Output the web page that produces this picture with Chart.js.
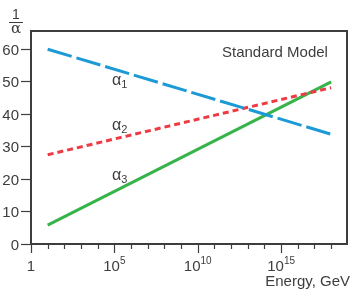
<!DOCTYPE html>
<html>
<head>
<meta charset="utf-8">
<script src="https://cdn.jsdelivr.net/npm/chart.js@4"></script>
<style>
  html, body { margin: 0; padding: 0; background: #fff; }
  #wrap { width: 364px; height: 295px; position: relative; }
</style>
</head>
<body>
<div id="wrap"><canvas id="couplingChart"></canvas></div>
<script>
// energy in GeV at the two ends of each line
const energies = [10, 1e18];
// 1/alpha values at those energies
const alpha1 = [59.8, 33.7];
const alpha2 = [27.4, 48.0];
const alpha3 = [5.8, 49.8];

const yTicks = [0, 10, 20, 30, 40, 50, 60];
const xMajorExps = [0, 5, 10, 15];
const seriesNames = ['1', '2', '3'];

const axisColor = '#3d3d3d';
const textColor = '#3d3d3d';
const font = '"Liberation Sans", Arial, sans-serif';

const toPoints = (vals) => energies.map((e, i) => ({ x: e, y: vals[i] }));

// frame, ticks, tick labels and text annotations
const decorations = {
    id: 'decorations',
    afterDraw(chart) {
        const ctx = chart.ctx;
        const { left, right, top, bottom } = chart.chartArea;
        const xs = chart.scales.x, ys = chart.scales.y;
        ctx.save();
        ctx.strokeStyle = axisColor;
        ctx.fillStyle = textColor;

        // box
        ctx.lineWidth = 2;
        ctx.strokeRect(left, top, right - left, bottom - top);

        // y ticks + labels
        ctx.lineWidth = 1.2;
        ctx.font = '15px ' + font;
        ctx.textAlign = 'right';
        ctx.textBaseline = 'middle';
        yTicks.forEach(v => {
            const y = Math.round(ys.getPixelForValue(v)) + 0.5;
            ctx.beginPath();
            ctx.moveTo(left - 10, y);
            ctx.lineTo(left, y);
            ctx.stroke();
            ctx.fillText(String(v), left - 12, y + 1);
        });

        // x ticks, one per decade
        for (let d = 0; 10 ** d <= xs.max; d++) {
            const x = Math.round(xs.getPixelForValue(10 ** d)) + 0.5;
            const len = d % 5 === 0 ? 9 : 5;
            ctx.beginPath();
            ctx.moveTo(x, bottom);
            ctx.lineTo(x, bottom + len);
            ctx.stroke();
        }

        // x labels with superscripts
        ctx.textBaseline = 'alphabetic';
        ctx.textAlign = 'left';
        xMajorExps.forEach(d => {
            const x = xs.getPixelForValue(10 ** d);
            const base = 271;
            if (d === 0) {
                ctx.font = '15px ' + font;
                const w = ctx.measureText('1').width;
                ctx.fillText('1', x - w / 2, base);
                return;
            }
            ctx.font = '15px ' + font;
            const w1 = ctx.measureText('10').width;
            ctx.font = '10px ' + font;
            const w2 = ctx.measureText(String(d)).width;
            const x0 = x - (w1 + w2) / 2;
            ctx.font = '15px ' + font;
            ctx.fillText('10', x0, base);
            ctx.font = '10px ' + font;
            ctx.fillText(String(d), x0 + w1, base - 7);
        });

        // x axis title
        ctx.font = '15px ' + font;
        ctx.textAlign = 'right';
        ctx.fillText('Energy, GeV', 350, 286);

        // y axis title as fraction 1/alpha
        ctx.textAlign = 'center';
        ctx.font = '14px ' + font;
        ctx.fillText('1', 16, 19);
        ctx.lineWidth = 1;
        ctx.beginPath();
        ctx.moveTo(9, 22.5);
        ctx.lineTo(23, 22.5);
        ctx.stroke();
        ctx.font = '15px "DejaVu Serif", serif';
        ctx.fillText('α', 16, 33);

        // legend text inside box
        ctx.textAlign = 'left';
        ctx.font = '15px ' + font;
        ctx.fillText('Standard Model', 222, 57);

        // alpha labels
        const labelY = [85, 130, 180];
        seriesNames.forEach((n, i) => {
            ctx.font = '16px ' + font;
            ctx.fillText('α', 112, labelY[i]);
            const w = ctx.measureText('α').width;
            ctx.font = '11px ' + font;
            ctx.fillText(n, 112 + w, labelY[i] + 3);
        });

        ctx.restore();
    }
};

new Chart(document.getElementById('couplingChart'), {
    type: 'line',
    data: {
        datasets: [
            {
                label: 'α1',
                data: toPoints(alpha1),
                borderColor: '#1c9ad6',
                borderWidth: 3,
                borderDash: [25, 5],
                pointRadius: 0
            },
            {
                label: 'α2',
                data: toPoints(alpha2),
                borderColor: '#ee3b43',
                borderWidth: 3,
                borderDash: [6, 4],
                pointRadius: 0
            },
            {
                label: 'α3',
                data: toPoints(alpha3),
                borderColor: '#36b44a',
                borderWidth: 3,
                pointRadius: 0
            }
        ]
    },
    options: {
        responsive: true,
        maintainAspectRatio: false,
        animation: false,
        layout: { padding: { left: 31, top: 31, right: 17, bottom: 51 } },
        plugins: {
            legend: { display: false },
            tooltip: { enabled: false }
        },
        scales: {
            x: { type: 'logarithmic', min: 1, max: 10 ** 18.95, display: false },
            y: { type: 'linear', min: 0, max: 65.4, display: false }
        }
    },
    plugins: [decorations]
});
</script>
</body>
</html>
